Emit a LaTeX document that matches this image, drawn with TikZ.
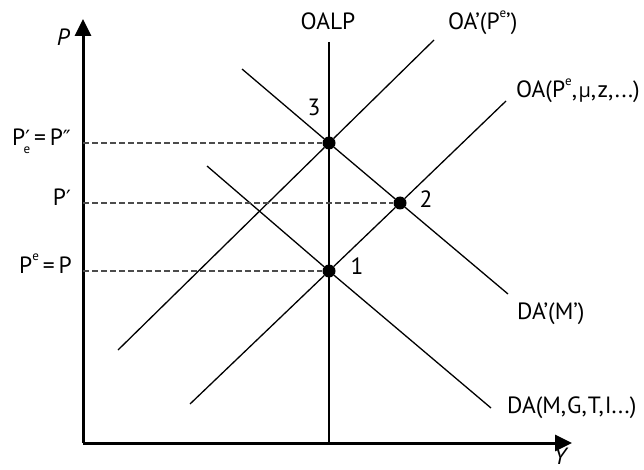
\documentclass[tikz,border=0pt]{standalone}
\usepackage{fontspec}
\setmainfont{PT Sans}
\newfontfamily\grk{Open Sans}
\newfontfamily\prm{DejaVu Sans}
\usetikzlibrary{arrows.meta}
\begin{document}
\begin{tikzpicture}[x=1pt,y=-1pt,
  axis/.style={line width=3pt,-{Triangle[length=17pt,width=16pt]}},
  curve/.style={line width=1.3pt},
  guide/.style={line width=1.4pt,draw=black!70,dash pattern=on 5.5pt off 3.5pt},
  eqdot/.style={circle,fill=black,inner sep=0pt,minimum size=13pt},
  lbl/.style={inner sep=0pt,font=\fontsize{23.5}{26}\selectfont},
]
\newcommand\ssc[1]{\raisebox{0.55em}{\fontsize{13}{13}\selectfont #1}}
\newcommand\pr{{\prm\fontsize{21}{21}\selectfont ′}}
\newcommand\dpr{{\prm\fontsize{21}{21}\selectfont ″}}
\useasboundingbox (0,0) rectangle (644,470);

% axes
\coordinate (O) at (83,443);
\coordinate (ytop) at (83,19);
\coordinate (xend) at (572,443);
\draw[axis] (O) -- (ytop);
\draw[axis] (O) -- (xend);
\node[lbl,font=\fontsize{23.5}{26}\selectfont\itshape] (plab) at (63,37) {P};
\node[lbl,font=\fontsize{23.5}{26}\selectfont\itshape] (ylab) at (560,456) {Y};

% equilibrium points
\node[eqdot] (e3) at (329,143) {};
\node[eqdot] (e2) at (400,203) {};
\node[eqdot] (e1) at (329,271) {};

% curve end points
\coordinate (lpTop) at (329,42);
\coordinate (lpBot) at (329,443);
\coordinate (oapLo) at (118,350);
\coordinate (oapHi) at (434,40);
\coordinate (oaLo) at (190,404);
\coordinate (oaHi) at (506,101);
\coordinate (dapHi) at (242,69);
\coordinate (dapLo) at (508,294);
\coordinate (daHi) at (207,166);
\coordinate (daLo) at (491,408);

% curves
\draw[curve] (lpTop) -- (lpBot);
\draw[curve] (oapLo) -- (e3) -- (oapHi);
\draw[curve] (oaLo) -- (e1) -- (e2) -- (oaHi);
\draw[curve] (dapHi) -- (e3) -- (e2) -- (dapLo);
\draw[curve] (daHi) -- (e1) -- (daLo);

% guides to the price axis
\draw[guide] (83,143) -- (e3);
\draw[guide] (83,203) -- (e2);
\draw[guide] (83,271) -- (e1);

% price labels
\node[lbl,anchor=base east] (p3lab) at (71,146)
  {P\pr\llap{\raisebox{-0.3em}{\fontsize{13}{13}\selectfont e}}\,=\,P\dpr};
\node[lbl,anchor=base east] (p2lab) at (71,205) {P\pr};
\node[lbl,anchor=base east] (p1lab) at (72,273) {P\ssc{e}\,=\,P};

% point numbers
\node[lbl] (n3) at (314,107) {3};
\node[lbl] (n2) at (426,199) {2};
\node[lbl] (n1) at (357,266) {1};

% curve labels
\node[lbl,anchor=base] (lplab) at (328,30) {OALP};
\node[lbl,anchor=base west] (oaplab) at (448,30) {OA’(P\ssc{e}’)};
\node[lbl,anchor=base west] (oalab) at (516,98)
  {OA(P\ssc{e},\kern1.5pt{\grk\fontsize{20}{20}\selectfont μ},\kern1.5pt z,\kern1.5pt...)};
\node[lbl,anchor=base west] (daplab) at (517,319) {DA’(M’)};
\node[lbl,anchor=base west] (dalab) at (507,413) {DA(M,\kern1pt G,\kern1pt T,\kern1pt I...)};
\end{tikzpicture}
\end{document}
